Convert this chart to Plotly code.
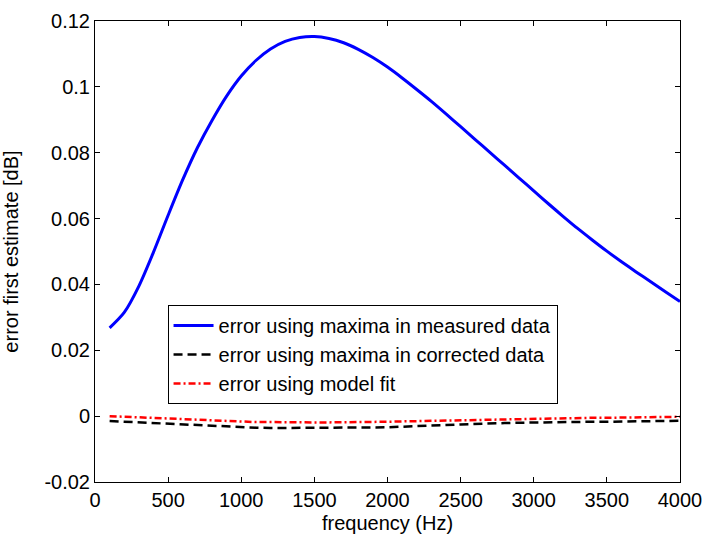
import plotly.graph_objects as go

freq = list(range(100, 4001, 100))

err_measured = [
    0.0268, 0.0315, 0.0395, 0.0498, 0.0610, 0.0718, 0.0815, 0.0898, 0.0972, 0.1033,
    0.1080, 0.1115, 0.1138, 0.1150, 0.1153, 0.1147, 0.1134, 0.1114, 0.1089, 0.1060,
    0.1027, 0.0992, 0.0956, 0.0918, 0.0879, 0.0840, 0.0801, 0.0762, 0.0723, 0.0684,
    0.0645, 0.0607, 0.0570, 0.0535, 0.0501, 0.0469, 0.0438, 0.0408, 0.0378, 0.0348,
]

err_corrected = [
    -0.0015, -0.0017, -0.0019, -0.0021, -0.0023, -0.0025, -0.0028, -0.0031, -0.0033, -0.0035,
    -0.0035, -0.0036, -0.0036, -0.0036, -0.0036, -0.0036, -0.0036, -0.0036, -0.0035, -0.0034,
    -0.0032, -0.0031, -0.0029, -0.0027, -0.0025, -0.0023, -0.0022, -0.0021, -0.0020, -0.0019,
    -0.0019, -0.0018, -0.0018, -0.0017, -0.0017, -0.0016, -0.0016, -0.0015, -0.0015, -0.0014,
]

err_model = [
    0.0000, -0.0002, -0.0003, -0.0005, -0.0007, -0.0009, -0.0011, -0.0013, -0.0015, -0.0017,
    -0.0018, -0.0018, -0.0019, -0.0019, -0.0019, -0.0019, -0.0019, -0.0018, -0.0018, -0.0017,
    -0.0016, -0.0015, -0.0014, -0.0013, -0.0012, -0.0011, -0.0010, -0.0009, -0.0009, -0.0008,
    -0.0007, -0.0007, -0.0006, -0.0005, -0.0005, -0.0004, -0.0004, -0.0003, -0.0003, -0.0002,
]

series_names = [
    "error using maxima in measured data",
    "error using maxima in corrected data",
    "error using model fit",
]

x_tickvals = [0, 500, 1000, 1500, 2000, 2500, 3000, 3500, 4000]
x_ticktext = ["0", "500", "1000", "1500", "2000", "2500", "3000", "3500", "4000"]
y_tickvals = [-0.02, 0, 0.02, 0.04, 0.06, 0.08, 0.1, 0.12]
y_ticktext = ["-0.02", "0", "0.02", "0.04", "0.06", "0.08", "0.1", "0.12"]

FONT = "Liberation Sans, Arial, sans-serif"
TICK_SIZE = 20
LEGEND_SIZE = 20

fig = go.Figure()
fig.add_trace(go.Scatter(x=freq, y=err_measured, mode="lines", name=series_names[0],
                         line=dict(color="#0000ff", width=3, shape="spline", smoothing=0.8)))
fig.add_trace(go.Scatter(x=freq, y=err_corrected, mode="lines", name=series_names[1],
                         line=dict(color="#000000", width=2.5, dash="9px,5px")))
fig.add_trace(go.Scatter(x=freq, y=err_model, mode="lines", name=series_names[2],
                         line=dict(color="#ff0000", width=2.5, dash="7px,3px,2px,3px")))

axis_common = dict(
    showline=True, linecolor="black", linewidth=1, mirror="ticks",
    ticks="inside", ticklen=5, tickcolor="black", tickwidth=1,
    showgrid=False, zeroline=False, automargin=False,
    tickfont=dict(family=FONT, size=TICK_SIZE, color="black"),
)

fig.update_xaxes(range=[0, 4000], tickvals=x_tickvals, ticktext=x_ticktext,
                 title=dict(text="frequency (Hz)", font=dict(family=FONT, size=TICK_SIZE, color="black"),
                            standoff=5),
                 **axis_common)
fig.update_yaxes(range=[-0.02, 0.12], tickvals=y_tickvals, ticktext=y_ticktext,
                 title=dict(text="error first estimate [dB]", font=dict(family=FONT, size=TICK_SIZE, color="black"),
                            standoff=22),
                 **axis_common)

fig.update_layout(
    width=704, height=537,
    margin=dict(l=95, r=24, t=21, b=55, pad=0),
    paper_bgcolor="white", plot_bgcolor="white",
    font=dict(family=FONT, size=TICK_SIZE, color="black"),
    showlegend=True,
    legend=dict(
        x=0.124, y=0.384, xanchor="left", yanchor="top",
        bgcolor="white", bordercolor="black", borderwidth=1,
        font=dict(family=FONT, size=LEGEND_SIZE, color="black"),
        tracegroupgap=0, itemwidth=40,
    ),
)

fig.write_html("out.html")
